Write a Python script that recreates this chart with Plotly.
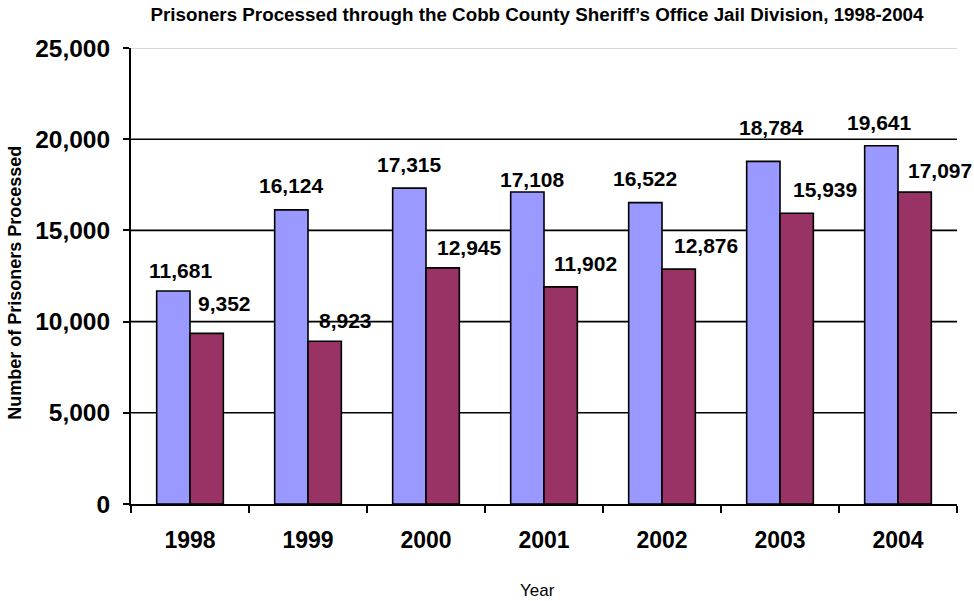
import plotly.graph_objects as go

# ---- data ----
years = ["1998", "1999", "2000", "2001", "2002", "2003", "2004"]
series_a = [11681, 16124, 17315, 17108, 16522, 18784, 19641]
series_b = [9352, 8923, 12945, 11902, 12876, 15939, 17097]
y_ticks = [0, 5000, 10000, 15000, 20000, 25000]
grid_black = [5000, 10000, 15000, 20000]
grid_top = 25000

# ---- label placement styling (pixel nudges, as in the original) ----
a_dx = [7, 0, 0, 5, 0, 8, -2]
a_dy = [20, 24, 24, 12, 24, 34, 23]
b_dx = [18, 21, 27, 25, 27, 28, 25]
b_dy = [30, 21, 20, 23, 24, 24, 22]

COLOR_A = "#9999FF"
COLOR_B = "#993366"
FONT = "Arial, 'Liberation Sans', sans-serif"

W, H = 974, 601
ML, MR, MT, MB = 131, 17, 48, 97
plot_w = W - ML - MR
plot_h = H - MT - MB
bargap = 0.435
bar_px = plot_w / len(years) * (1 - bargap) / 2

fig = go.Figure()
fig.add_trace(go.Bar(x=years, y=series_a, name="Series 1",
                     marker=dict(color=COLOR_A, line=dict(color="black", width=1.6))))
fig.add_trace(go.Bar(x=years, y=series_b, name="Series 2",
                     marker=dict(color=COLOR_B, line=dict(color="black", width=1.6))))

shapes = []
for g in grid_black:
    shapes.append(dict(type="line", xref="paper", x0=0, x1=1, yref="y", y0=g, y1=g,
                       line=dict(color="black", width=1.6), layer="below"))
shapes.append(dict(type="line", xref="paper", x0=0, x1=1, yref="y", y0=grid_top, y1=grid_top,
                   line=dict(color="#B0B0B0", width=1), layer="below"))

annotations = []
for i, yr in enumerate(years):
    annotations.append(dict(x=i, y=series_a[i], text=f"{series_a[i]:,}", showarrow=False,
                            xshift=-bar_px / 2 + a_dx[i], yshift=a_dy[i], yanchor="middle",
                            font=dict(family=FONT, size=21, color="black", weight="bold")))
    annotations.append(dict(x=i, y=series_b[i], text=f"{series_b[i]:,}", showarrow=False,
                            xshift=bar_px / 2 + b_dx[i], yshift=b_dy[i], yanchor="middle",
                            font=dict(family=FONT, size=21, color="black", weight="bold")))

annotations.append(dict(xref="paper", yref="paper", x=(15 - ML) / plot_w, y=0.485,
                        text="Number of Prisoners Processed", textangle=-90, showarrow=False,
                        xanchor="center", yanchor="middle",
                        font=dict(family=FONT, size=18, color="black", weight="bold")))
annotations.append(dict(xref="paper", yref="paper", x=(537 - ML) / plot_w,
                        y=(H - MB - 590) / plot_h,
                        text="Year", showarrow=False, xanchor="center", yanchor="middle",
                        font=dict(family=FONT, size=17, color="black")))

fig.update_layout(
    width=W, height=H,
    margin=dict(l=ML, r=MR, t=MT, b=MB, autoexpand=False),
    paper_bgcolor="white", plot_bgcolor="white",
    barmode="group", bargap=bargap, bargroupgap=0,
    showlegend=False,
    title=dict(text="Prisoners Processed through the Cobb County Sheriff\u2019s Office Jail Division, 1998-2004",
               x=537 / W, xanchor="center", xref="container",
               y=1 - 14 / H, yanchor="middle", yref="container",
               font=dict(family=FONT, size=18.8, color="black", weight="bold")),
    xaxis=dict(type="category", range=[-0.5, len(years) - 0.5], autorange=False,
               showline=True, linecolor="black", linewidth=2,
               ticks="outside", tickson="boundaries", ticklen=7, tickwidth=2, tickcolor="black",
               tickfont=dict(family=FONT, size=23, color="black", weight="bold"),
               tickangle=0, ticklabelstandoff=14, showgrid=False, automargin=False),
    yaxis=dict(range=[0, 25000], autorange=False, tickvals=y_ticks, tickformat=",d",
               showline=True, linecolor="black", linewidth=2,
               ticks="outside", ticklen=6, tickwidth=2, tickcolor="black",
               tickfont=dict(family=FONT, size=24.5, color="black", weight="bold"),
               ticklabelstandoff=8, showgrid=False, zeroline=False, automargin=False),
    shapes=shapes,
    annotations=annotations,
)

fig.write_html("out.html", config={"displayModeBar": False},
               post_script="document.body.style.margin='0';")
